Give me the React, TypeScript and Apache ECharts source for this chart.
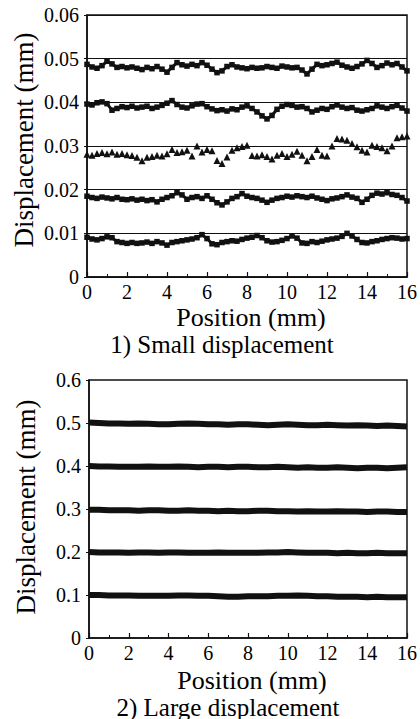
import React, { useEffect, useRef } from "react";
import * as echarts from "echarts";

// Position samples (mm)
const posSmall = [
  0, 0.25, 0.5, 0.75, 1, 1.25, 1.5, 1.75,
  2, 2.25, 2.5, 2.75, 3, 3.25, 3.5, 3.75,
  4, 4.25, 4.5, 4.75, 5, 5.25, 5.5, 5.75,
  6, 6.25, 6.5, 6.75, 7, 7.25, 7.5, 7.75,
  8, 8.25, 8.5, 8.75, 9, 9.25, 9.5, 9.75,
  10, 10.25, 10.5, 10.75, 11, 11.25, 11.5, 11.75,
  12, 12.25, 12.5, 12.75, 13, 13.25, 13.5, 13.75,
  14, 14.25, 14.5, 14.75, 15, 15.25, 15.5, 15.75,
  16,
];

const posLarge = [
  0, 0.5, 1, 1.5, 2, 2.5, 3, 3.5, 4, 4.5, 5,
  5.5, 6, 6.5, 7, 7.5, 8, 8.5, 9, 9.5, 10, 10.5,
  11, 11.5, 12, 12.5, 13, 13.5, 14, 14.5, 15, 15.5, 16,
];

// 1) Small displacement series (mm)
const small50 = [
  0.0487, 0.0481, 0.0478, 0.0484, 0.0494, 0.0488, 0.048, 0.0482,
  0.0479, 0.0481, 0.0478, 0.0475, 0.048, 0.0477, 0.0482, 0.0476,
  0.0469, 0.048, 0.0491, 0.0486, 0.0483, 0.0487, 0.0484, 0.0491,
  0.0485, 0.0476, 0.0468, 0.0472, 0.0482, 0.0486, 0.0481, 0.0479,
  0.0477, 0.048, 0.0478, 0.0479, 0.0482, 0.048, 0.0478, 0.0483,
  0.0481, 0.0479, 0.048, 0.0474, 0.0465, 0.0476, 0.0487, 0.0484,
  0.0486, 0.0489, 0.0492, 0.0485, 0.0481, 0.0478, 0.0482, 0.0488,
  0.0496, 0.0489, 0.048, 0.0484, 0.049, 0.0486, 0.0489, 0.0481,
  0.0472,
];

const small40 = [
  0.0396, 0.0394, 0.0399, 0.0401, 0.0397, 0.0382, 0.0386, 0.039,
  0.0388, 0.0391, 0.0387, 0.0389, 0.0391, 0.0386, 0.0389, 0.0393,
  0.0398, 0.0404, 0.0395, 0.0389, 0.0387, 0.0392, 0.0396, 0.0397,
  0.039, 0.0385, 0.0381, 0.0383, 0.038, 0.0385, 0.0383, 0.0389,
  0.0392, 0.0386, 0.0378, 0.0369, 0.0362, 0.037, 0.0384, 0.0391,
  0.0395, 0.0393, 0.0389, 0.039, 0.0386, 0.0378, 0.0382, 0.0386,
  0.0384, 0.039, 0.0394, 0.0389, 0.0386, 0.0388, 0.0382, 0.038,
  0.0383, 0.0386, 0.0392, 0.0389, 0.0386, 0.039, 0.0393, 0.0387,
  0.038,
];

const small30 = [
  0.0281, 0.0279, 0.0283, 0.0285, 0.0282, 0.0286, 0.0281, 0.0283,
  0.028, 0.0278, 0.0274, 0.0266, 0.0274, 0.0276, 0.0279, 0.0277,
  0.0282, 0.0292, 0.0285, 0.0287, 0.029, 0.0277, 0.03, 0.0286,
  0.0292, 0.0289, 0.0267, 0.026, 0.0275, 0.029, 0.0296, 0.0299,
  0.0302, 0.0278, 0.0277, 0.028, 0.0276, 0.027, 0.0279, 0.0283,
  0.0276, 0.0281, 0.0288, 0.0279, 0.0266, 0.0276, 0.0292, 0.0279,
  0.0277, 0.03, 0.0317, 0.0316, 0.0313, 0.0306, 0.0298, 0.029,
  0.0286, 0.0302, 0.0299, 0.0296, 0.0289, 0.03, 0.0319, 0.0321,
  0.0323,
];

const small20 = [
  0.0185, 0.0182, 0.018, 0.0183, 0.0181, 0.0179, 0.0182, 0.0178,
  0.0177, 0.0179, 0.0176, 0.0178, 0.0175, 0.0177, 0.0172, 0.0178,
  0.0182, 0.0186, 0.0193, 0.0188, 0.0178, 0.0182, 0.0184, 0.018,
  0.0186, 0.0178, 0.017, 0.0165, 0.0172, 0.018, 0.0184, 0.0191,
  0.0185, 0.0182, 0.018, 0.0176, 0.0171, 0.0176, 0.018, 0.0182,
  0.0185, 0.0183, 0.0186, 0.0184, 0.0182, 0.0185, 0.0181, 0.0178,
  0.0175, 0.0179, 0.0181, 0.0184, 0.0188, 0.0183, 0.018, 0.0171,
  0.0178, 0.0187, 0.0192, 0.019, 0.0193, 0.0189, 0.0187, 0.0182,
  0.0174,
];

const small10 = [
  0.0091, 0.0087, 0.0085, 0.0088, 0.0092, 0.009, 0.0081, 0.0079,
  0.0077, 0.0079, 0.0077, 0.0078, 0.008, 0.0077, 0.0081, 0.0078,
  0.0073, 0.0079, 0.0081, 0.0083, 0.0085, 0.0087, 0.009, 0.0097,
  0.0088, 0.0076, 0.0074, 0.0079, 0.0081, 0.0083, 0.0082, 0.0086,
  0.0089, 0.0091, 0.0095, 0.009, 0.0083, 0.008, 0.0081, 0.0084,
  0.0088, 0.0094, 0.0089, 0.0078, 0.0077, 0.0081, 0.0079, 0.0082,
  0.0085, 0.0087, 0.0089, 0.0093, 0.01, 0.0094, 0.0086, 0.0079,
  0.0078, 0.0081, 0.0083, 0.0086, 0.0088, 0.009, 0.0089, 0.0087,
  0.0088,
];

// 2) Large displacement series (mm)
const large50 = [
  0.501, 0.5, 0.499, 0.499, 0.498, 0.499, 0.498, 0.497, 0.497, 0.498, 0.499,
  0.498, 0.497, 0.497, 0.496, 0.497, 0.497, 0.496, 0.495, 0.496, 0.497, 0.496,
  0.495, 0.495, 0.496, 0.495, 0.494, 0.495, 0.494, 0.493, 0.494, 0.493, 0.492,
];
const large40 = [
  0.4, 0.399, 0.399, 0.398, 0.398, 0.398, 0.399, 0.398, 0.398, 0.399, 0.398,
  0.397, 0.398, 0.398, 0.397, 0.398, 0.398, 0.397, 0.397, 0.398, 0.397, 0.396,
  0.397, 0.396, 0.396, 0.397, 0.396, 0.395, 0.396, 0.396, 0.395, 0.396, 0.397,
];
const large30 = [
  0.298, 0.298, 0.297, 0.297, 0.297, 0.296, 0.297, 0.297, 0.296, 0.296, 0.297,
  0.296, 0.296, 0.295, 0.296, 0.295, 0.295, 0.296, 0.296, 0.295, 0.295, 0.294,
  0.295, 0.294, 0.294, 0.295, 0.294, 0.294, 0.293, 0.294, 0.294, 0.293, 0.293,
];
const large20 = [
  0.2, 0.199, 0.199, 0.199, 0.198, 0.199, 0.199, 0.198, 0.199, 0.199, 0.198,
  0.198, 0.198, 0.199, 0.198, 0.198, 0.198, 0.198, 0.199, 0.199, 0.2, 0.199,
  0.198, 0.198, 0.198, 0.197, 0.198, 0.197, 0.197, 0.198, 0.197, 0.197, 0.197,
];
const large10 = [
  0.1, 0.1, 0.099, 0.099, 0.099, 0.098, 0.098, 0.098, 0.098, 0.099, 0.099,
  0.098, 0.098, 0.097, 0.096, 0.096, 0.097, 0.097, 0.097, 0.098, 0.098, 0.099,
  0.098, 0.097, 0.097, 0.096, 0.096, 0.096, 0.095, 0.096, 0.095, 0.095, 0.095,
];

const yTitle = "Displacement (mm)";
const xTitle = "Position (mm)";
const caption1 = "1) Small displacement";
const caption2 = "2) Large displacement";

const FONT = "Liberation Serif";
const INK = "#111";

const pairs = (xs: number[], ys: number[]) => ys.map((y, i) => [xs[i], y]);

export default function App() {
  const ref = useRef<HTMLDivElement>(null);

  useEffect(() => {
    if (!ref.current) return;
    const chart = echarts.init(ref.current, null, { renderer: "svg" });

    const axisCommon = {
      axisLine: { show: true, onZero: false, lineStyle: { color: INK, width: 1.5 } },
      axisLabel: { color: "#000", fontFamily: FONT, fontSize: 20 },
    };

    const xAxisFor = (gridIndex: number) => ({
      type: "value",
      gridIndex,
      min: 0,
      max: 16,
      interval: 2,
      ...axisCommon,
      axisLabel: { ...axisCommon.axisLabel, margin: 5 },
      axisTick: { show: true, inside: true, length: 5, lineStyle: { color: INK, width: 1.2 } },
      minorTick: { show: true, splitNumber: 2, length: 3, lineStyle: { color: INK, width: 1 } },
      splitLine: { show: false },
    });

    const squareLine = (data: number[], name: string) => ({
      type: "line",
      name,
      xAxisIndex: 0,
      yAxisIndex: 0,
      data: pairs(posSmall, data),
      symbol: "rect",
      symbolSize: 5.5,
      showSymbol: true,
      itemStyle: { color: INK, opacity: 1 },
      lineStyle: { color: INK, width: 3 },
      clip: false,
    });

    const bigLine = (data: number[], name: string) => ({
      type: "line",
      name,
      xAxisIndex: 1,
      yAxisIndex: 1,
      data: pairs(posLarge, data),
      symbol: "none",
      lineStyle: { color: INK, width: 6 },
    });

    const titleText = (text: string, x: number, y: number, size: number, rot = 0) => ({
      type: "text",
      x,
      y,
      rotation: rot,
      style: {
        text,
        fill: "#000",
        fontSize: size,
        fontFamily: FONT,
        align: "center",
        verticalAlign: "middle",
      },
    });

    chart.setOption({
      animation: false,
      backgroundColor: "#fff",
      grid: [
        { left: 87, top: 15, width: 322, height: 262, show: true, borderColor: INK, borderWidth: 1.5 },
        { left: 89, top: 380, width: 323, height: 258, show: true, borderColor: INK, borderWidth: 1.5 },
      ],
      xAxis: [xAxisFor(0), xAxisFor(1)],
      yAxis: [
        {
          type: "value",
          gridIndex: 0,
          min: 0,
          max: 0.06,
          interval: 0.01,
          ...axisCommon,
          axisLabel: {
            ...axisCommon.axisLabel,
            margin: 8,
            formatter: (v: number) => (v === 0 ? "0" : v.toFixed(2)),
          },
          axisTick: { show: true, inside: false, length: 3, lineStyle: { color: INK } },
          splitLine: { show: true, lineStyle: { color: INK, width: 1 } },
        },
        {
          type: "value",
          gridIndex: 1,
          min: 0,
          max: 0.6,
          interval: 0.1,
          ...axisCommon,
          axisLabel: {
            ...axisCommon.axisLabel,
            margin: 8,
            formatter: (v: number) => (v === 0 ? "0" : v.toFixed(1)),
          },
          axisTick: { show: true, inside: false, length: 3, lineStyle: { color: INK } },
          splitLine: { show: false },
        },
      ],
      series: [
        squareLine(small50, "s50"),
        squareLine(small40, "s40"),
        {
          type: "scatter",
          name: "s30",
          xAxisIndex: 0,
          yAxisIndex: 0,
          data: pairs(posSmall, small30),
          symbol: "triangle",
          symbolSize: 7,
          itemStyle: { color: INK, opacity: 1 },
          clip: false,
        },
        squareLine(small20, "s20"),
        squareLine(small10, "s10"),
        bigLine(large50, "l50"),
        bigLine(large40, "l40"),
        bigLine(large30, "l30"),
        bigLine(large20, "l20"),
        bigLine(large10, "l10"),
      ],
      graphic: [
        titleText(yTitle, 24, 140, 27, Math.PI / 2),
        titleText(xTitle, 251, 317, 26),
        titleText(caption1, 222, 344, 25),
        titleText(yTitle, 26, 507, 27, Math.PI / 2),
        titleText(xTitle, 252, 680, 26),
        titleText(caption2, 228, 707, 25),
      ],
    });

    return () => chart.dispose();
  }, []);

  return (
    <div
      ref={ref}
      style={{ position: "absolute", left: 0, top: 0, width: 420, height: 719, background: "#fff" }}
    />
  );
}
